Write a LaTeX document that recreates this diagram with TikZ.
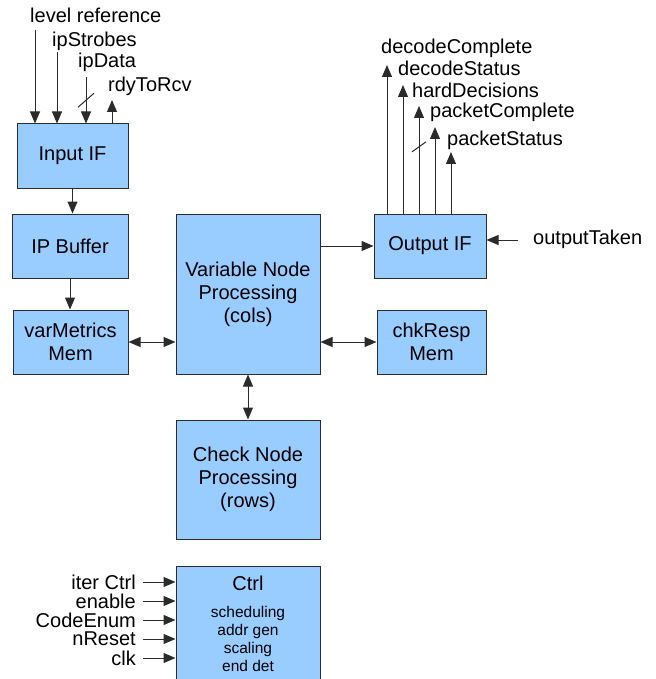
\documentclass[tikz,border=0pt]{standalone}
\usepackage{fontspec}
\setmainfont{Liberation Sans}
\usepackage{xcolor}
\usetikzlibrary{arrows.meta, positioning, calc}
\definecolor{blkfill}{HTML}{99CCFF}
\definecolor{lnclr}{HTML}{2B2B2B}

\begin{document}
\begin{tikzpicture}[x=1pt, y=-1pt, font=\fontsize{20}{23}\selectfont]
  \tikzstyle{blk} = [rectangle, draw=lnclr, line width=1pt, fill=blkfill, align=center, inner sep=0pt]
  \tikzstyle{sig} = [draw=lnclr, line width=1pt, -{Triangle[length=12pt, width=10pt]}]
  \tikzstyle{bisig} = [sig, {Triangle[length=12pt, width=10pt]}-{Triangle[length=12pt, width=10pt]}]
  \tikzstyle{lbl} = [inner sep=0pt, anchor=base west]
  \useasboundingbox (0,0) rectangle (655,679);
  % blocks
  \node[blk, minimum width=111pt, minimum height=64pt] (InIF)  at (72.5,156) {Input IF};
  \node[blk, minimum width=116pt, minimum height=64pt] (IPBuf) at (70,246)   {IP Buffer};
  \node[blk, minimum width=115pt, minimum height=64pt] (VarM)  at (70.5,342) {varMetrics\\Mem};
  \node[blk, minimum width=144pt, minimum height=160pt] (VarN) at (248,294)  {Variable Node\\Processing\\(cols)};
  \node[blk, minimum width=112pt, minimum height=64pt] (OutIF) at (430,246)  {Output IF};
  \node[blk, minimum width=109pt, minimum height=64pt] (ChkR)  at (431.5,342) {chkResp\\Mem};
  \node[blk, minimum width=144pt, minimum height=119pt] (ChkN) at (248,479.5) {Check Node\\Processing\\(rows)};
  \node[blk, minimum width=144pt, minimum height=116pt, font=\fontsize{15.5}{18}\selectfont] (Ctrl) at (248,624)
    {{\fontsize{20}{23}\selectfont Ctrl}\\[9pt]scheduling\\addr gen\\scaling\\end det};
  % input side
  \node[lbl] (lvlTxt) at (30,23)  {level reference};
  \node[lbl] (stbTxt) at (52,47)  {ipStrobes};
  \node[lbl] (datTxt) at (78,68)  {ipData};
  \node[lbl] (rdyTxt) at (108,92) {rdyToRcv};
  \coordinate (lvl) at (35,30);
  \coordinate (stb) at (57,52);
  \coordinate (dat) at (86,77);
  \coordinate (rdy) at (112,100);
  \draw[sig] (lvl) -- (lvl |- InIF.north);
  \draw[sig] (stb) -- (stb |- InIF.north);
  \draw[sig] (dat) -- coordinate[pos=0.5] (datBus) (dat |- InIF.north);
  \draw[draw=lnclr, line width=1pt] ($(datBus)+(-8,7)$) -- ($(datBus)+(8,-7)$);
  \draw[sig] (rdy |- InIF.north) -- (rdy);
  % data path
  \draw[sig] (InIF.south) -- (InIF.south |- IPBuf.north);
  \draw[sig] (IPBuf.south) -- (IPBuf.south |- VarM.north);
  \draw[bisig] (VarM.east) -- (VarM.east -| VarN.west);
  \draw[sig] (VarN.east |- OutIF.west) -- (OutIF.west);
  \draw[bisig] (ChkR.west) -- (ChkR.west -| VarN.east);
  \draw[bisig] (VarN.south) -- (ChkN.north);
  % output side
  \node[lbl] (dcTxt) at (381,54)  {decodeComplete};
  \node[lbl] (dsTxt) at (398,76)  {decodeStatus};
  \node[lbl] (hdTxt) at (412,98)  {hardDecisions};
  \node[lbl] (pcTxt) at (430,118) {packetComplete};
  \node[lbl] (psTxt) at (447,146) {packetStatus};
  \coordinate (dc) at (387,65);
  \coordinate (ds) at (403,85);
  \coordinate (hd) at (419,106);
  \coordinate (pc) at (435,127);
  \coordinate (ps) at (451,152);
  \draw[sig] (dc |- OutIF.north) -- (dc);
  \draw[sig] (ds |- OutIF.north) -- (ds);
  \draw[sig] (hd |- OutIF.north) -- coordinate[pos=0.62] (hdBus) (hd);
  \draw[draw=lnclr, line width=1pt] ($(hdBus)+(-7,5)$) -- ($(hdBus)+(7,-5)$);
  \draw[sig] (pc |- OutIF.north) -- (pc);
  \draw[sig] (ps |- OutIF.north) -- (ps);
  \node[lbl] (otTxt) at (533,244) {outputTaken};
  \coordinate (ot) at (518,240);
  \draw[sig] (ot) -- (ot -| OutIF.east);
  % control inputs
  \foreach \nm/\txt/\yy in {it/iter Ctrl/582, en/enable/601, ce/CodeEnum/620, rs/nReset/639, ck/clk/658} {
    \node[inner sep=0pt, anchor=east] (\nm Txt) at (136,\yy) {\txt};
    \coordinate (\nm) at (143,\yy);
    \draw[sig] (\nm) -- (\nm -| Ctrl.west);
  }
\end{tikzpicture}
\end{document}
